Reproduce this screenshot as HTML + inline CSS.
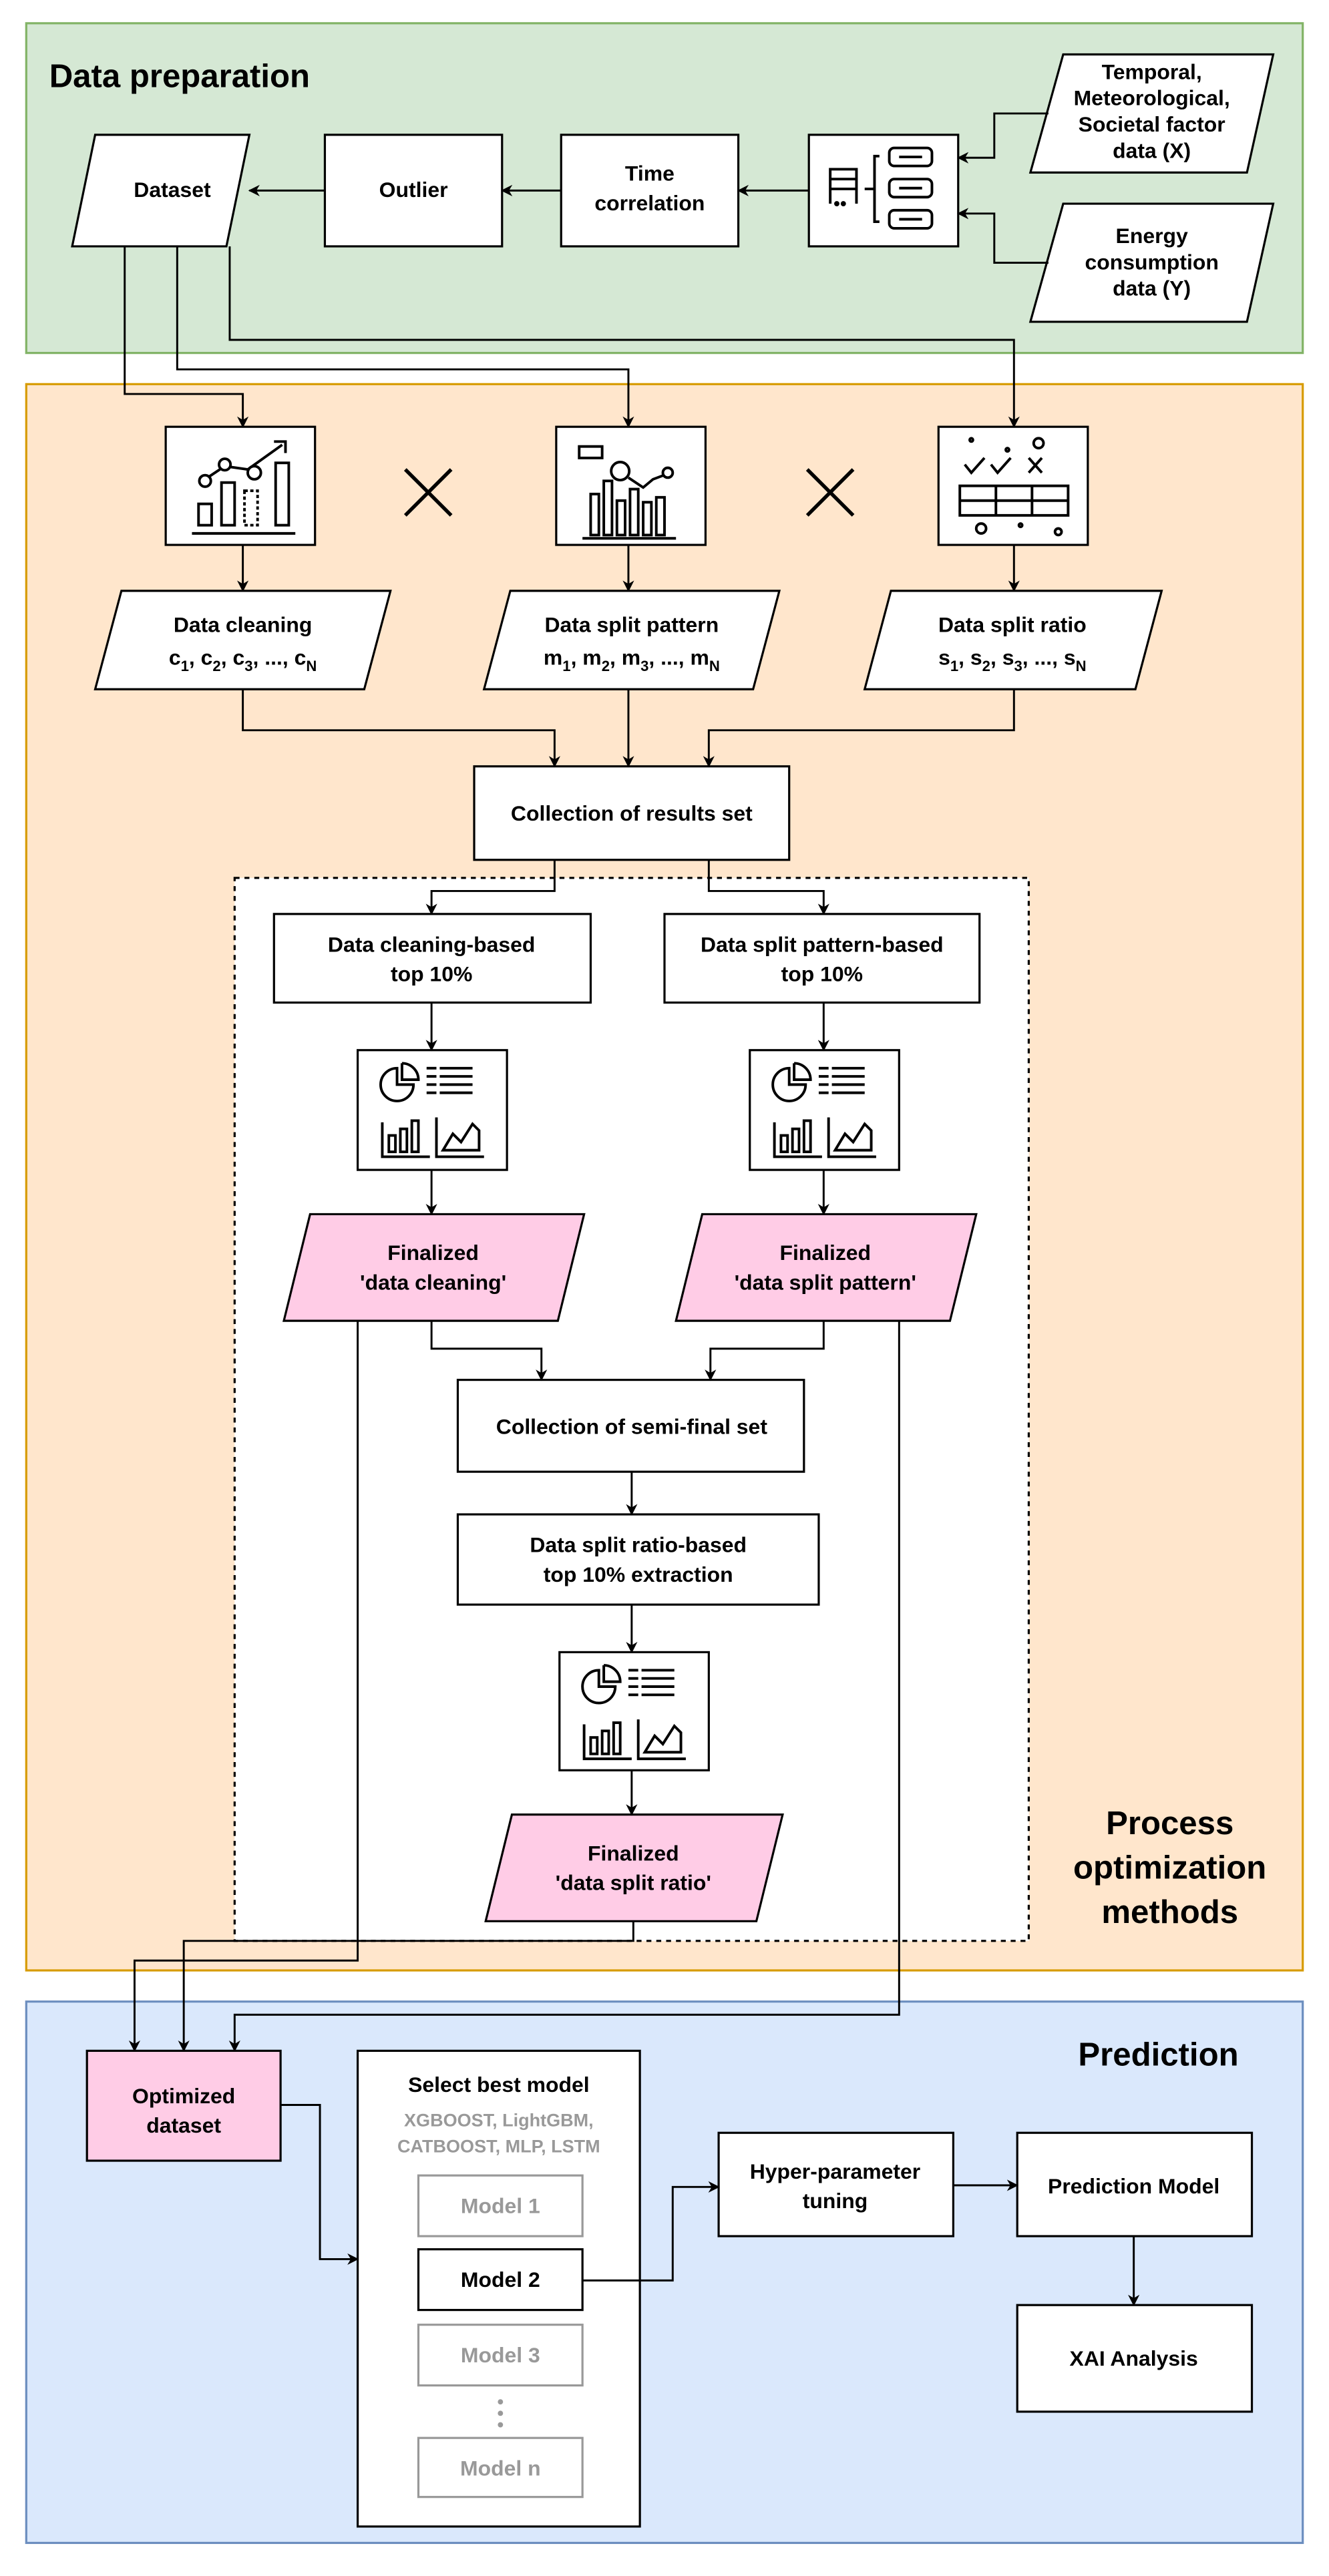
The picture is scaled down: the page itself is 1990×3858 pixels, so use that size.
<!DOCTYPE html>
<html><head><meta charset="utf-8"><style>html,body{margin:0;padding:0;background:#fff}svg{display:block}text{font-family:"Liberation Sans",Arial,sans-serif;font-weight:bold;fill:#000}</style></head>
<body>
<svg width="1990" height="3858" viewBox="0 0 810 1570" xmlns="http://www.w3.org/2000/svg">
<defs>
<marker id="a" viewBox="0 0 10 10" refX="9" refY="5" markerWidth="7" markerHeight="7" orient="auto" markerUnits="userSpaceOnUse"><path d="M0,0 L10,5 L0,10 L3,5 z" fill="#000"/></marker>
<g id="rep" fill="none" stroke="#000" stroke-width="1.6">
<path d="M24,8 A10,10 0 1 0 34,18 L24,18 z"/><path d="M27,5 L27,15 L37,15 A10,10 0 0 0 27,5"/>
<line x1="42" y1="8" x2="48" y2="8"/><line x1="50" y1="8" x2="70" y2="8"/><line x1="42" y1="13" x2="48" y2="13"/><line x1="50" y1="13" x2="70" y2="13"/><line x1="42" y1="18" x2="48" y2="18"/><line x1="50" y1="18" x2="70" y2="18"/><line x1="42" y1="23" x2="48" y2="23"/><line x1="50" y1="23" x2="70" y2="23"/>
<path d="M15,41 V62 H44"/><rect x="19" y="49" width="4" height="10"/><rect x="26" y="45" width="4" height="14"/><rect x="33" y="40" width="4" height="19"/>
<path d="M48,38 V62 H77"/><path d="M52,58 L58,48 L63,53 L70,42 L74,46 V58 z"/>
</g>
</defs>
<rect x="16" y="14" width="778" height="201" fill="#d5e8d4" stroke="#82b366" stroke-width="1.3"/>
<rect x="16" y="234" width="778" height="967" fill="#ffe6cc" stroke="#d79b00" stroke-width="1.3"/>
<rect x="16" y="1220" width="778" height="330" fill="#dae8fc" stroke="#6c8ebf" stroke-width="1.3"/>
<text x="30" y="53" font-size="20">Data preparation</text>
<text x="713" y="1118" font-size="20" text-anchor="middle">Process</text>
<text x="713" y="1145" font-size="20" text-anchor="middle">optimization</text>
<text x="713" y="1172" font-size="20" text-anchor="middle">methods</text>
<text x="706" y="1259" font-size="20" text-anchor="middle">Prediction</text>

<g stroke="#000" stroke-width="1.3" fill="#fff">
<polygon points="58,82 152,82 138,150 44,150"/>
<rect x="198" y="82" width="108" height="68"/>
<rect x="342" y="82" width="108" height="68"/>
<rect x="493" y="82" width="91" height="68"/>
<polygon points="648,33 776,33 760,105 628,105"/>
<polygon points="648,124 776,124 760,196 628,196"/>
<rect x="101" y="260" width="91" height="72"/>
<rect x="339" y="260" width="91" height="72"/>
<rect x="572" y="260" width="91" height="72"/>
<polygon points="74,360 238,360 222,420 58,420"/>
<polygon points="311,360 475,360 459,420 295,420"/>
<polygon points="543,360 708,360 692,420 527,420"/>
<rect x="289" y="467" width="192" height="57"/>
<rect x="143" y="535" width="484" height="648" fill="#fff" stroke-dasharray="3,3"/>
<rect x="167" y="557" width="193" height="54"/>
<rect x="405" y="557" width="192" height="54"/>
<rect x="218" y="640" width="91" height="73"/>
<rect x="457" y="640" width="91" height="73"/>
<polygon points="189,740 356,740 340,805 173,805" fill="#ffcce6"/>
<polygon points="428,740 595,740 579,805 412,805" fill="#ffcce6"/>
<rect x="279" y="841" width="211" height="56"/>
<rect x="279" y="923" width="220" height="55"/>
<rect x="341" y="1007" width="91" height="72"/>
<polygon points="312,1106 477,1106 461,1171 296,1171" fill="#ffcce6"/>
<rect x="53" y="1250" width="118" height="67" fill="#ffcce6"/>
<rect x="218" y="1250" width="172" height="290"/>
<rect x="255" y="1326" width="100" height="37" stroke="#999"/>
<rect x="255" y="1371" width="100" height="37"/>
<rect x="255" y="1417" width="100" height="37" stroke="#999"/>
<rect x="255" y="1486" width="100" height="36" stroke="#999"/>
<rect x="438" y="1300" width="143" height="63"/>
<rect x="620" y="1300" width="143" height="63"/>
<rect x="620" y="1405" width="143" height="65"/>
</g>
<g fill="#999"><circle cx="305" cy="1464" r="1.6"/><circle cx="305" cy="1471" r="1.6"/><circle cx="305" cy="1478" r="1.6"/></g>

<g stroke="#000" stroke-width="1.2" fill="none" marker-end="url(#a)">
<path d="M639,69 H606 V96 H584"/>
<path d="M639,160 H606 V130 H584"/>
<path d="M493,116 H450"/>
<path d="M342,116 H306"/>
<path d="M198,116 H152"/>
<path d="M76,150 V240 H148 V260"/>
<path d="M108,150 V225 H383 V260"/>
<path d="M140,150 V207 H618 V260"/>
<path d="M148,332 V360"/>
<path d="M383,332 V360"/>
<path d="M618,332 V360"/>
<path d="M148,420 V445 H338 V467"/>
<path d="M383,420 V467"/>
<path d="M618,420 V445 H432 V467"/>
<path d="M338,524 V543 H263 V557"/>
<path d="M432,524 V543 H502 V557"/>
<path d="M263,611 V640"/>
<path d="M502,611 V640"/>
<path d="M263,713 V740"/>
<path d="M502,713 V740"/>
<path d="M263,805 V822 H330 V841"/>
<path d="M502,805 V822 H433 V841"/>
<path d="M385,897 V923"/>
<path d="M385,978 V1007"/>
<path d="M385,1079 V1106"/>
<path d="M218,805 V1195 H82 V1250"/>
<path d="M386,1171 V1183 H112 V1250"/>
<path d="M548,805 V1228 H143 V1250"/>
<path d="M171,1283 H195 V1377 H218"/>
<path d="M355,1390 H410 V1333 H438"/>
<path d="M581,1332 H620"/>
<path d="M691,1363 V1405"/>
</g>
<g stroke="#000" stroke-width="2.2"><path d="M247,286 L275,314 M275,286 L247,314"/><path d="M492,286 L520,314 M520,286 L492,314"/></g>

<g fill="none" stroke="#000" stroke-width="1.6">
<path d="M506,124 V103 H522 V124"/><line x1="506" y1="109" x2="522" y2="109"/><line x1="506" y1="115" x2="522" y2="115"/><circle cx="514" cy="124" r="0.8" fill="#000"/><circle cx="510" cy="124" r="0.8" fill="#000"/>
<path d="M527,115 H533 M536,95 H533 V135 H536"/>
<rect x="542" y="90" width="26" height="11" rx="3"/><rect x="542" y="109" width="26" height="11" rx="3"/><rect x="542" y="128" width="26" height="11" rx="3"/>
<line x1="548" y1="95.5" x2="562" y2="95.5"/><line x1="548" y1="114.5" x2="562" y2="114.5"/><line x1="548" y1="133.5" x2="562" y2="133.5"/>
<rect x="121" y="307" width="8" height="13"/><rect x="135" y="294" width="8" height="26"/><rect x="149" y="299" width="8" height="21" stroke-dasharray="2,1.5"/><rect x="168" y="282" width="8" height="38"/>
<line x1="117" y1="325" x2="180" y2="325"/>
<path d="M125,292 L137,284 L151,286 L172,271"/><circle cx="125" cy="293" r="3.5" fill="#fff"/><circle cx="137" cy="283" r="3.5" fill="#fff"/><circle cx="155" cy="288" r="4" fill="#fff"/><path d="M167,269 H174 V276"/>
<rect x="360" y="301" width="5" height="25"/><rect x="368" y="293" width="5" height="33"/><rect x="376" y="305" width="5" height="21"/><rect x="384" y="298" width="5" height="28"/><rect x="392" y="306" width="5" height="20"/><rect x="400" y="303" width="5" height="23"/>
<line x1="355" y1="328" x2="412" y2="328"/>
<circle cx="378" cy="287" r="5.5"/><path d="M383,291 L392,297 L398,292 L406,289"/><circle cx="407" cy="288" r="3" fill="#fff"/>
<rect x="353" y="272" width="14" height="7"/>
<path d="M588,283 L592,288 L600,279 M604,283 L608,288 L616,279"/><path d="M627,279 L635,288 M635,279 L627,288"/>
<circle cx="614" cy="274" r="1"/><circle cx="633" cy="270" r="3"/><circle cx="592" cy="268" r="1"/>
<rect x="585" y="296" width="66" height="18"/><line x1="585" y1="305" x2="651" y2="305"/><line x1="607" y1="296" x2="607" y2="314"/><line x1="629" y1="296" x2="629" y2="314"/>
<circle cx="598" cy="322" r="3"/><circle cx="645" cy="324" r="2"/><circle cx="622" cy="320" r="1"/>
</g>
<use href="#rep" x="218" y="643"/>
<use href="#rep" x="457" y="643"/>
<use href="#rep" x="341" y="1010"/>

<g font-size="13" text-anchor="middle">
<text x="105" y="120">Dataset</text>
<text x="252" y="120">Outlier</text>
<text x="396" y="110">Time</text><text x="396" y="128">correlation</text>
<text x="702" y="48">Temporal,</text><text x="702" y="64">Meteorological,</text><text x="702" y="80">Societal factor</text><text x="702" y="96">data (X)</text>
<text x="702" y="148">Energy</text><text x="702" y="164">consumption</text><text x="702" y="180">data (Y)</text>
<text x="148" y="385">Data cleaning</text>
<text x="148" y="405">c<tspan font-size="9" dy="4">1</tspan><tspan dy="-4">, c</tspan><tspan font-size="9" dy="4">2</tspan><tspan dy="-4">, c</tspan><tspan font-size="9" dy="4">3</tspan><tspan dy="-4">, ..., c</tspan><tspan font-size="9" dy="4">N</tspan></text>
<text x="385" y="385">Data split pattern</text>
<text x="385" y="405">m<tspan font-size="9" dy="4">1</tspan><tspan dy="-4">, m</tspan><tspan font-size="9" dy="4">2</tspan><tspan dy="-4">, m</tspan><tspan font-size="9" dy="4">3</tspan><tspan dy="-4">, ..., m</tspan><tspan font-size="9" dy="4">N</tspan></text>
<text x="617" y="385">Data split ratio</text>
<text x="617" y="405">s<tspan font-size="9" dy="4">1</tspan><tspan dy="-4">, s</tspan><tspan font-size="9" dy="4">2</tspan><tspan dy="-4">, s</tspan><tspan font-size="9" dy="4">3</tspan><tspan dy="-4">, ..., s</tspan><tspan font-size="9" dy="4">N</tspan></text>
<text x="385" y="500">Collection of results set</text>
<text x="263" y="580">Data cleaning-based</text><text x="263" y="598">top 10%</text>
<text x="501" y="580">Data split pattern-based</text><text x="501" y="598">top 10%</text>
<text x="264" y="768">Finalized</text><text x="264" y="786">'data cleaning'</text>
<text x="503" y="768">Finalized</text><text x="503" y="786">'data split pattern'</text>
<text x="385" y="874">Collection of semi-final set</text>
<text x="389" y="946">Data split ratio-based</text><text x="389" y="964">top 10% extraction</text>
<text x="386" y="1134">Finalized</text><text x="386" y="1152">'data split ratio'</text>
<text x="112" y="1282">Optimized</text><text x="112" y="1300">dataset</text>
<text x="304" y="1275">Select best model</text>
<text x="304" y="1296" font-size="11" style="fill:#999">XGBOOST, LightGBM,</text>
<text x="304" y="1312" font-size="11" style="fill:#999">CATBOOST, MLP, LSTM</text>
<text x="305" y="1349" style="fill:#999">Model 1</text>
<text x="305" y="1394">Model 2</text>
<text x="305" y="1440" style="fill:#999">Model 3</text>
<text x="305" y="1509" style="fill:#999">Model n</text>
<text x="509" y="1328">Hyper-parameter</text><text x="509" y="1346">tuning</text>
<text x="691" y="1337">Prediction Model</text>
<text x="691" y="1442">XAI Analysis</text>
</g>
</svg>
</body></html>
